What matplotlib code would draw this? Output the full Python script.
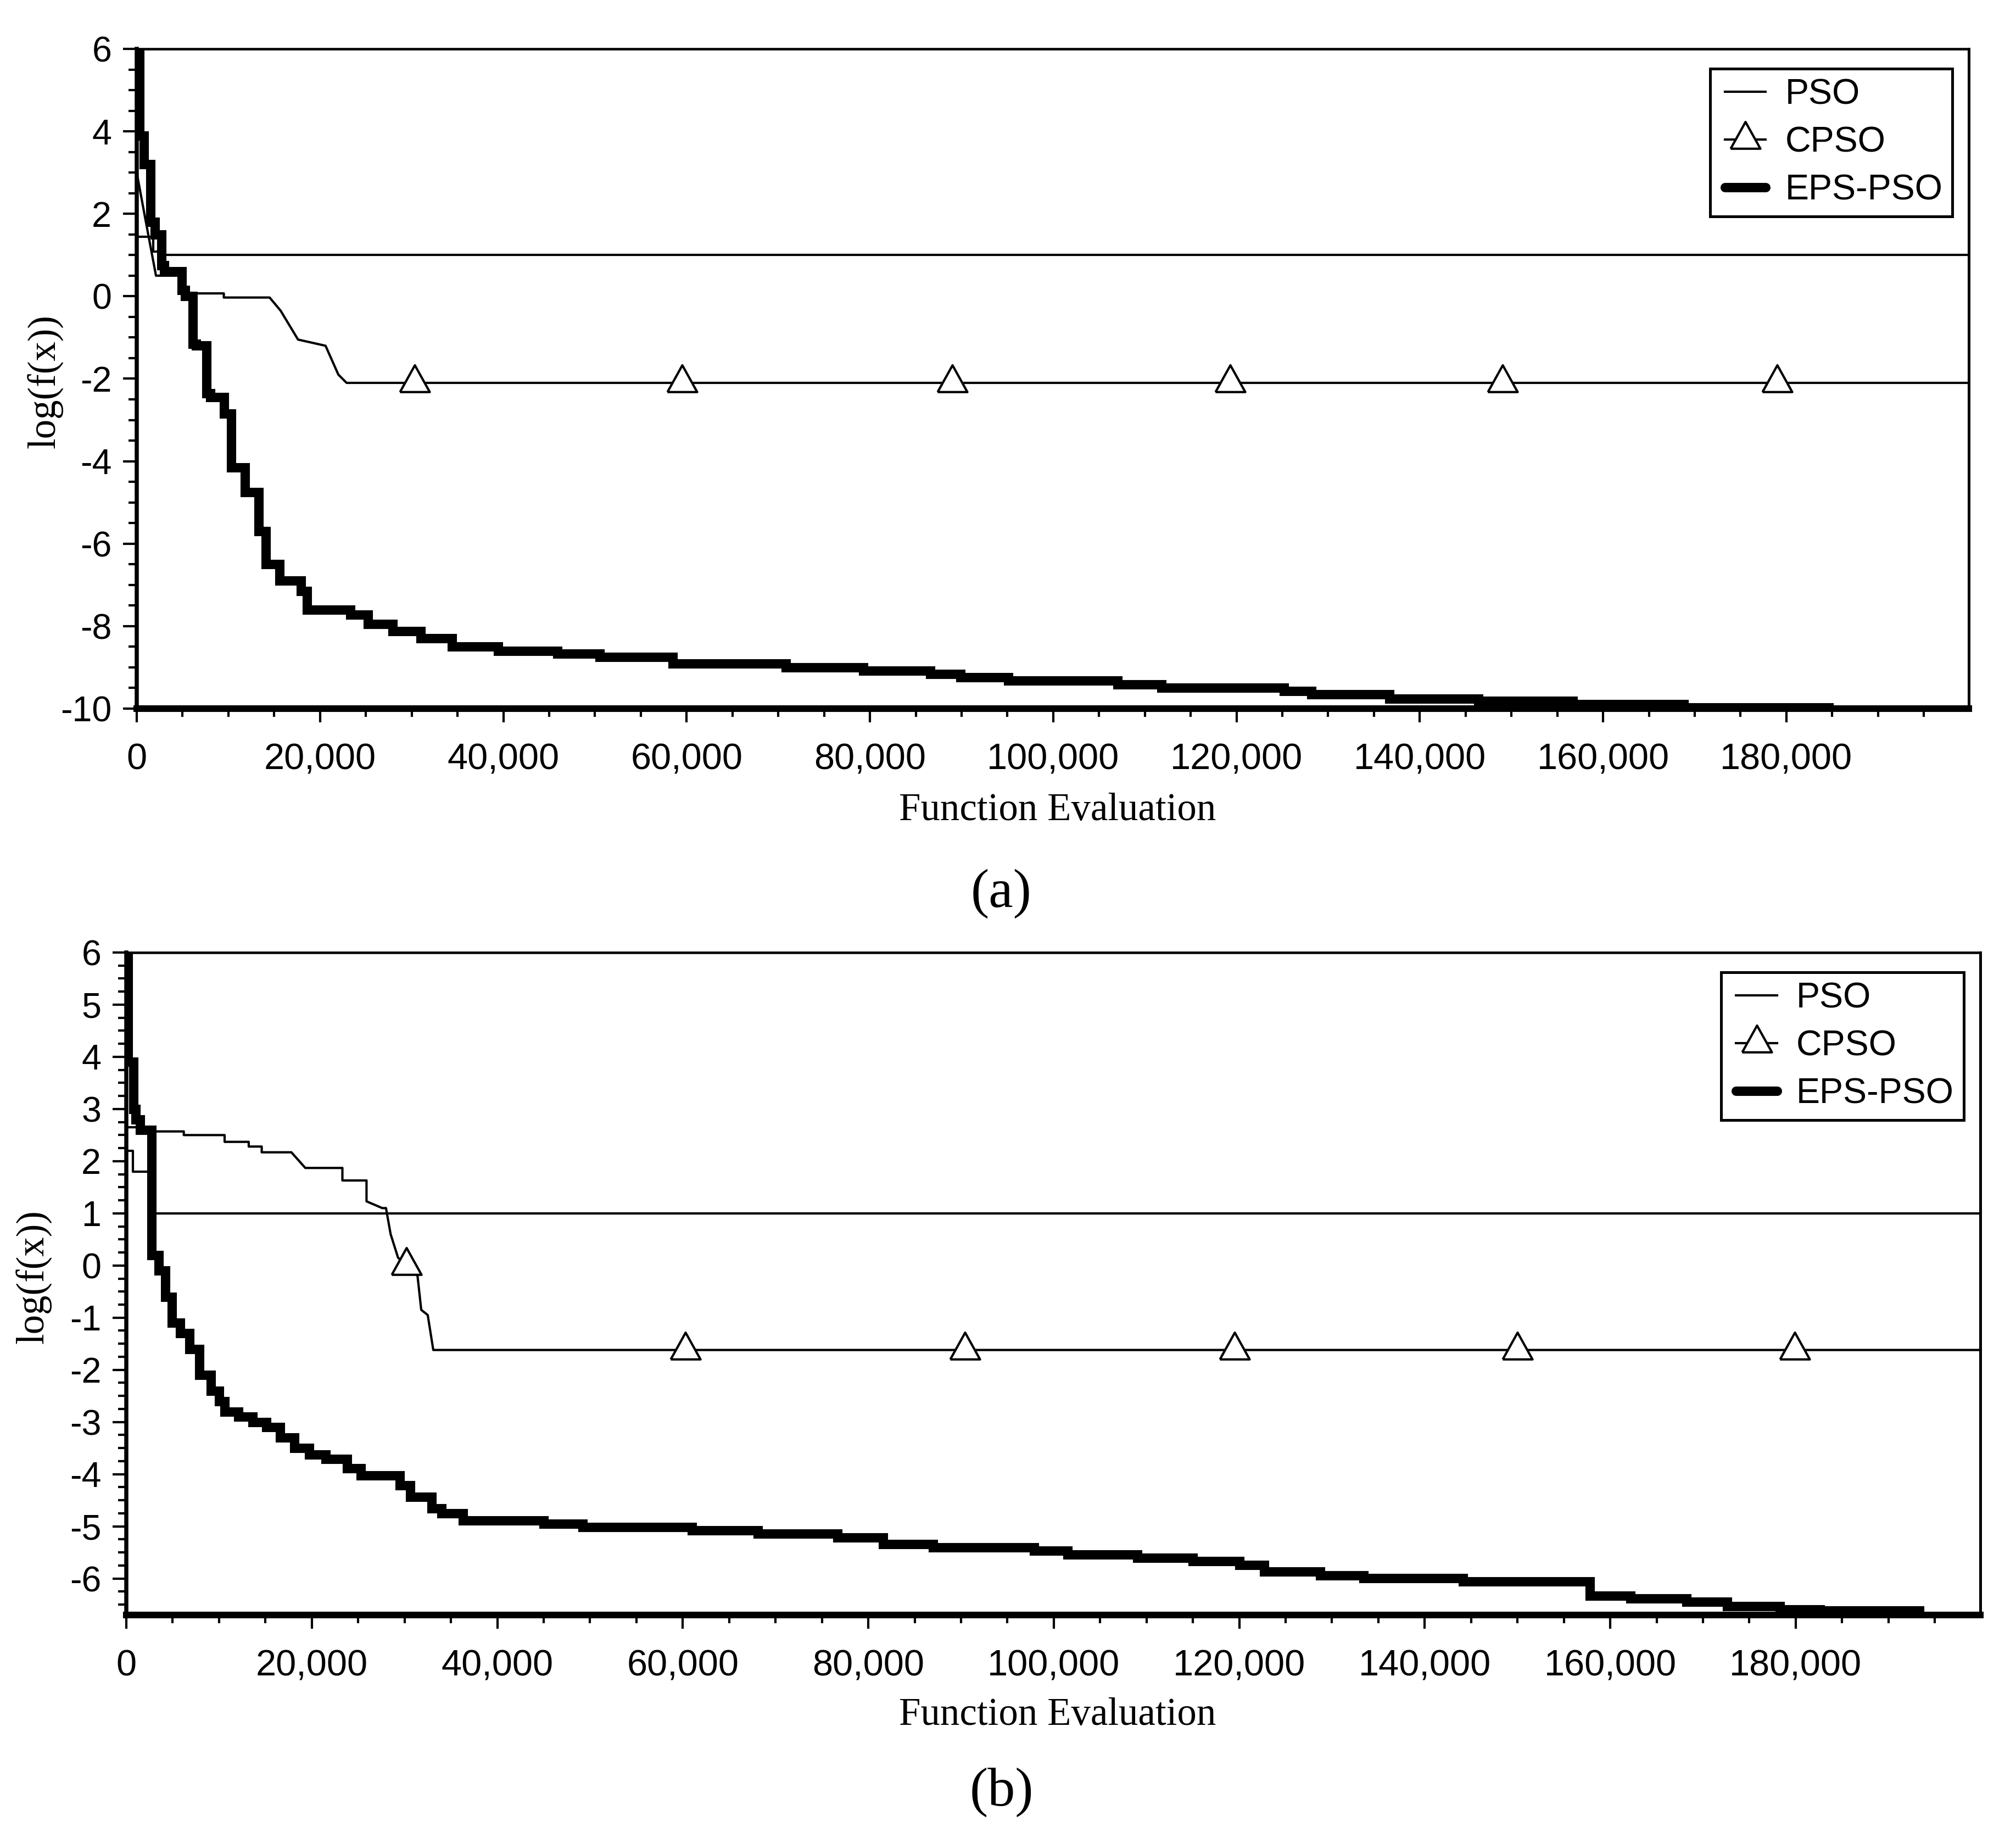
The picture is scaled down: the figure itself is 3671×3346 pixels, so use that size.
import matplotlib
matplotlib.use("agg")
import matplotlib.pyplot as plt
from matplotlib.ticker import MultipleLocator, StrMethodFormatter
from matplotlib.lines import Line2D
from matplotlib.legend_handler import HandlerLine2D

# ---------------- panel (a) ----------------
pso_a_x = [0, 1800, 1800, 2700, 2700, 200000]
pso_a_y = [1.45, 1.45, 1.08, 1.08, 1.0, 1.0]

cpso_a_x = [0, 1000, 2100, 5000, 5000, 9500, 9500, 14500, 15700, 17600, 20600, 22000, 22900, 200000]
cpso_a_y = [3.0, 1.8, 0.5, 0.5, 0.07, 0.07, -0.03, -0.03, -0.35, -1.05, -1.2, -1.9, -2.1, -2.1]
cpso_a_mark_x = [30300, 59500, 89000, 119300, 149000, 179000]
cpso_a_mark_y = [-2.1, -2.1, -2.1, -2.1, -2.1, -2.1]

# EPS-PSO, step levels (value holds from x[i] to x[i+1])
eps_a_x = [0, 300, 800, 1500, 2000, 2700, 3000, 4900, 5300, 6100, 6500, 7600, 8000, 9500,
           10300, 11800, 13300, 14100, 15600, 17900, 18600, 23300, 25200, 27900, 31000,
           34400, 39400, 45900, 50500, 58500, 70800, 79300, 86600, 89900, 95100, 107000,
           111800, 125200, 128200, 136700, 146400, 156700, 168800, 184600]
eps_a_y = [6.0, 3.9, 3.2, 1.8, 1.5, 0.75, 0.6, 0.15, 0.0, -1.15, -1.2, -2.35, -2.45, -2.85,
           -4.15, -4.75, -5.7, -6.5, -6.9, -7.15, -7.6, -7.72, -7.95, -8.12, -8.3,
           -8.5, -8.6, -8.67, -8.75, -8.91, -9.0, -9.08, -9.16, -9.24, -9.32, -9.42,
           -9.5, -9.57, -9.65, -9.76, -9.82, -9.89, -9.97, -9.97]

# ---------------- panel (b) ----------------
pso_b_x = [0, 700, 700, 2600, 2600, 200000]
pso_b_y = [2.2, 2.2, 1.8, 1.8, 1.0, 1.0]

cpso_b_x = [0, 2600, 2600, 6200, 6200, 10600, 10600, 13200, 13200, 14600, 14600, 17800, 19300,
            23300, 23300, 25900, 25900, 27600, 28000, 28500, 29300, 30800, 31400, 31800, 32500,
            33100, 200000]
cpso_b_y = [2.65, 2.65, 2.57, 2.57, 2.5, 2.5, 2.37, 2.37, 2.28, 2.28, 2.17, 2.17, 1.87,
            1.87, 1.63, 1.63, 1.23, 1.1, 1.1, 0.6, 0.15, -0.1, -0.2, -0.85, -0.95,
            -1.62, -1.62]
cpso_b_mark_x = [30200, 60300, 90400, 119500, 150000, 179900]
cpso_b_mark_y = [0.0, -1.62, -1.62, -1.62, -1.62, -1.62]

eps_b_x = [0, 200, 750, 1000, 1500, 2700, 3500, 4200, 4900, 5800, 6800, 7900, 9100, 10000,
           10600, 12100, 13600, 15100, 16600, 18100, 19700, 21500, 23800, 25300, 29500,
           30600, 32900, 34000, 36300, 45000, 49200, 61000, 68100, 76700, 81600, 87000,
           97900, 101500, 109000, 115000, 120000, 122700, 128700, 133400, 144100, 157800,
           162200, 168200, 172600, 178300, 182600, 193300]
eps_b_y = [6.0, 3.9, 3.0, 2.8, 2.6, 0.2, -0.1, -0.6, -1.1, -1.3, -1.6, -2.1, -2.4, -2.6,
           -2.8, -2.9, -3.0, -3.1, -3.3, -3.5, -3.62, -3.71, -3.89, -4.03, -4.21,
           -4.44, -4.66, -4.75, -4.89, -4.95, -5.02, -5.08, -5.14, -5.21, -5.34, -5.40,
           -5.47, -5.54, -5.61, -5.67, -5.74, -5.87, -5.94, -5.99, -6.06, -6.33,
           -6.38, -6.45, -6.53, -6.59, -6.62, -6.62]

labels = ["PSO", "CPSO", "EPS-PSO"]

plt.rcParams['font.family'] = ['Liberation Sans', 'DejaVu Sans']
plt.rcParams['axes.unicode_minus'] = False

# open triangle whose base sits just under the line
tri = [(-1, -0.6), (1, -0.6), (0, 1.2), (-1, -0.6)]
tri_size = 15.6
thin = 1.0
thick = 4.1


def draw_panel(ax, pso_x, pso_y, cpso_x, cpso_y, mark_x, mark_y, eps_x, eps_y,
               ylim, ymajor, yminor, label_pos):
    ax.plot(pso_x, pso_y, color='k', lw=thin)
    ax.plot(cpso_x, cpso_y, color='k', lw=thin)
    ax.plot(mark_x, mark_y, ls='none', marker=tri, ms=tri_size,
            mfc='white', mec='k', mew=1.0)
    ax.plot(eps_x, eps_y, color='k', lw=thick, drawstyle='steps-post',
            solid_joinstyle='miter')

    # stop just short of 200,000 so that label is not drawn
    ax.set_xlim(0, 199900)
    ax.set_ylim(*ylim)
    ax.xaxis.set_major_locator(MultipleLocator(20000))
    ax.xaxis.set_minor_locator(MultipleLocator(5000))
    ax.yaxis.set_major_locator(MultipleLocator(ymajor))
    ax.yaxis.set_minor_locator(MultipleLocator(yminor))
    ax.xaxis.set_major_formatter(StrMethodFormatter('{x:,.0f}'))
    ax.yaxis.set_major_formatter(StrMethodFormatter('{x:.0f}'))

    ax.tick_params(which='both', direction='out', top=False, right=False, width=1.0)
    ax.tick_params(axis='x', labelsize=16)
    ax.tick_params(axis='y', labelsize=15.5)
    ax.tick_params(which='major', length=6)
    ax.tick_params(which='minor', length=3.5)
    ax.tick_params(axis='x', which='major', pad=9)
    ax.tick_params(axis='y', which='major', pad=5)

    ax.spines['top'].set_linewidth(1.1)
    ax.spines['right'].set_linewidth(1.2)
    ax.spines['left'].set_linewidth(1.8)
    ax.spines['bottom'].set_linewidth(2.9)

    ax.set_xlabel("Function Evaluation", family=['Liberation Serif'], fontsize=17)
    ax.set_ylabel("log(f(x))", family=['Liberation Serif'], fontsize=17)
    ax.xaxis.set_label_coords(label_pos[0], label_pos[1])
    ax.yaxis.set_label_coords(label_pos[2], label_pos[3])

    handles = [
        Line2D([], [], color='k', lw=thin),
        Line2D([], [], color='k', lw=thin, marker=tri, ms=tri_size,
               mfc='white', mec='k', mew=1.0),
        Line2D([], [], color='k', lw=thick, solid_capstyle='round'),
    ]
    leg = ax.legend(handles, labels, loc='upper right', bbox_to_anchor=(0.991, 0.970),
                    borderaxespad=0, fontsize=15.5, frameon=True, fancybox=False,
                    edgecolor='k', framealpha=1, handlelength=1.3, handletextpad=0.55,
                    labelspacing=0.42, borderpad=0.27,
                    handler_map={Line2D: HandlerLine2D(xpad=0.15)})
    leg.get_frame().set_linewidth(1.2)


fig = plt.figure(figsize=(3671 / 300, 3346 / 300), dpi=300)
fig.patch.set_facecolor('white')

ax_a = fig.add_axes([0.06783, 0.61447, 0.90874, 0.35893])
draw_panel(ax_a, pso_a_x, pso_a_y, cpso_a_x, cpso_a_y, cpso_a_mark_x, cpso_a_mark_y,
           eps_a_x, eps_a_y, (-10, 6), 2, 0.5, (0.5027, -0.127, -0.040, 0.496))

ax_b = fig.add_axes([0.06265, 0.12134, 0.91964, 0.36043])
draw_panel(ax_b, pso_b_x, pso_b_y, cpso_b_x, cpso_b_y, cpso_b_mark_x, cpso_b_mark_y,
           eps_b_x, eps_b_y, (-6.7, 6), 1, 0.25, (0.5024, -0.124, -0.040, 0.511))

fig.text(0.4967, 0.5137, "(a)", family=['Liberation Serif'], fontsize=24,
         ha='center', va='center')
fig.text(0.4967, 0.0248, "(b)", family=['Liberation Serif'], fontsize=24,
         ha='center', va='center')

fig.savefig("out.png", dpi=300, facecolor='white')
